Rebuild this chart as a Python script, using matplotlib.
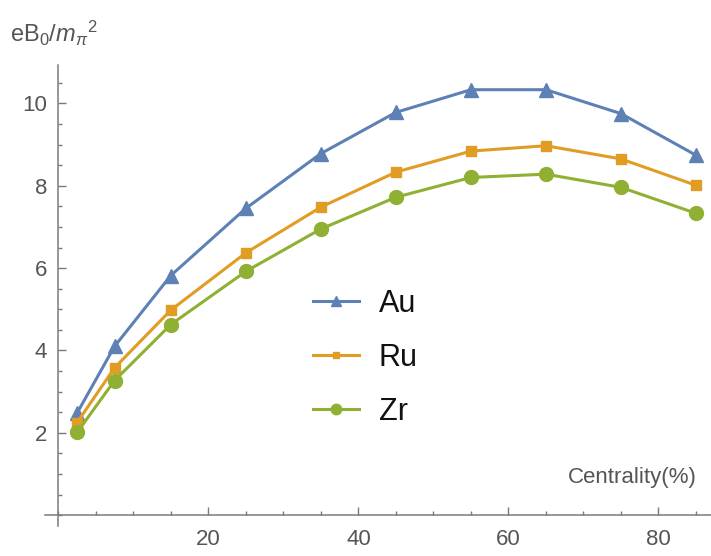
import matplotlib
matplotlib.use("Agg")
import matplotlib.pyplot as plt
from matplotlib.ticker import MultipleLocator, FixedLocator

plt.rcParams["font.family"] = ["Liberation Sans", "DejaVu Sans"]
plt.rcParams["mathtext.fontset"] = "custom"
plt.rcParams["mathtext.rm"] = "Liberation Sans"
plt.rcParams["mathtext.it"] = "Liberation Sans:italic"

# Centrality bins (%) and magnetic field strength eB0 / m_pi^2
centrality = [2.5, 7.5, 15, 25, 35, 45, 55, 65, 75, 85]
au = [2.48, 4.1, 5.82, 7.45, 8.78, 9.78, 10.33, 10.33, 9.75, 8.74]
ru = [2.25, 3.58, 4.98, 6.37, 7.48, 8.33, 8.84, 8.97, 8.65, 8.01]
zr = [2.01, 3.27, 4.63, 5.92, 6.95, 7.72, 8.2, 8.28, 7.96, 7.33]
series_names = ["Au", "Ru", "Zr"]

x_major = [20, 40, 60, 80]
y_major = [2, 4, 6, 8, 10]

blue = "#5E81B5"
orange = "#E19C24"
green = "#8FB032"
axis_gray = "#7a7a7a"
text_gray = "#555555"

fig = plt.figure(figsize=(7.11, 5.56), dpi=100)
ax = fig.add_axes([45 / 711, 30 / 556, 666 / 711, 461 / 556])

ax.plot(centrality, au, color=blue, lw=2.2, marker="^", ms=9.5,
        label=series_names[0], zorder=3)
ax.plot(centrality, ru, color=orange, lw=2.2, marker="s", ms=6.5,
        label=series_names[1], zorder=3)
ax.plot(centrality, zr, color=green, lw=2.2, marker="o", ms=10,
        label=series_names[2], zorder=3)

ax.set_xlim(-1.77, 87.0)
ax.set_ylim(-0.26, 10.93)

# Axes through the origin, Mathematica style
for side in ("top", "right"):
    ax.spines[side].set_visible(False)
ax.spines["left"].set_position(("data", 0))
ax.spines["bottom"].set_position(("data", 0))
for side in ("left", "bottom"):
    ax.spines[side].set_color(axis_gray)
    ax.spines[side].set_linewidth(1.1)

ax.xaxis.set_major_locator(FixedLocator(x_major))
ax.xaxis.set_minor_locator(MultipleLocator(5))
ax.yaxis.set_major_locator(FixedLocator(y_major))
ax.yaxis.set_minor_locator(MultipleLocator(0.5))
ax.tick_params(which="both", direction="in", color=axis_gray, width=1.0,
               labelcolor=text_gray, labelsize=16)
ax.tick_params(which="major", length=5.5)
ax.tick_params(axis="x", which="major", pad=10)
ax.tick_params(axis="y", which="major", pad=8)
ax.tick_params(which="minor", length=3.2)

ax.text(10 / 711, 1 - 33 / 556, r"eB$_0$/$m_\pi{}^2$", transform=fig.transFigure,
        fontsize=17, color=text_gray, ha="left", va="center")
ax.text(697 / 711, 1 - 478 / 556, "Centrality(%)", transform=fig.transFigure,
        fontsize=16, color=text_gray, ha="right", va="center")

leg = ax.legend(loc="upper left", bbox_to_anchor=(313 / 711, 1 - 289 / 556),
                bbox_transform=fig.transFigure, frameon=False, fontsize=22,
                handlelength=1.5, handletextpad=0.65, labelspacing=0.78,
                borderpad=0, borderaxespad=0, markerscale=0.75)
for t in leg.get_texts():
    t.set_color("#111111")

fig.savefig("out.png", dpi=100)
